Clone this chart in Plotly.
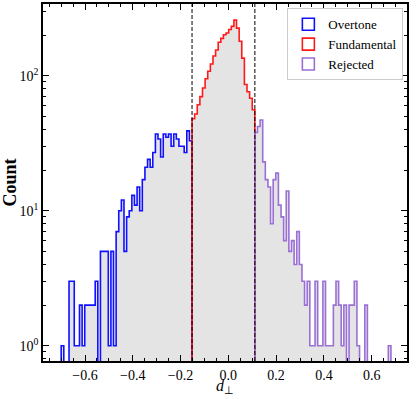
import numpy as np
import plotly.graph_objects as go

# cuts between the three groups (dashed lines)
cut_low = -0.152
cut_high = 0.111
overtone_lo = -0.6999
rejected_hi = 0.6808

# counts per bin (equal-width bins)
overtone_counts = [1, 0, 0, 3, 3, 1, 1, 2, 1, 2,
                   2, 2, 2, 3, 0, 5, 5, 5, 1, 5,
                   1, 7, 10, 12, 5, 9, 10, 13, 11, 15,
                   10, 17, 21, 24, 21, 27, 37, 34, 25, 37,
                   35, 37, 30, 37, 34, 30, 30, 27, 39, 33]
fundamental_counts = [48, 52, 61, 70, 81, 95, 108, 122, 140, 155,
                      177, 189, 201, 207, 220, 232, 258, 225, 180, 135,
                      86, 76, 68, 56]
rejected_counts = [38, 42, 47, 23, 17, 15, 8, 17, 19, 11,
                   9, 6, 14, 5, 6, 4, 7, 4, 3, 2,
                   3, 1, 1, 3, 1, 1, 3, 1, 1, 1,
                   2, 3, 2, 1, 2, 0, 2, 2, 3, 1,
                   0, 0, 2, 0, 0, 0, 0, 0, 0, 0,
                   0, 1]

groups = [
    ('Overtone', overtone_counts, overtone_lo, cut_low, '#1010ff'),
    ('Fundamental', fundamental_counts, cut_low, cut_high, '#ff1a1a'),
    ('Rejected', rejected_counts, cut_high, rejected_hi, '#9a6fd6'),
]

SERIF = 'Liberation Serif, Times New Roman, serif'
FLOOR = 0.05  # below the visible range, so zero bins drop off the axis

fig = go.Figure()

# grey filled histogram of everything
all_centers, all_counts, widths = [], [], []
for name, counts, lo, hi, color in groups:
    edges = np.linspace(lo, hi, len(counts) + 1)
    all_centers.extend((edges[:-1] + edges[1:]) / 2)
    all_counts.extend(counts)
    widths.extend(np.diff(edges))

fig.add_trace(go.Bar(
    x=all_centers, y=all_counts, width=widths,
    marker=dict(color='rgb(228,228,228)', line=dict(width=0)),
    showlegend=False, hoverinfo='skip'
))

# step outlines per group
for name, counts, lo, hi, color in groups:
    edges = np.linspace(lo, hi, len(counts) + 1)
    c = np.array(counts, dtype=float)
    c[c <= 0] = FLOOR
    xs = np.concatenate([[edges[0]], edges[:-1], [edges[-1], edges[-1]]])
    ys = np.concatenate([[FLOOR], c, [c[-1], FLOOR]])
    fig.add_trace(go.Scatter(
        x=xs, y=ys, mode='lines', line=dict(color=color, width=1.6, shape='hv'),
        showlegend=False, hoverinfo='skip'
    ))
    # legend entry: outlined box
    fig.add_trace(go.Bar(
        x=[None], y=[None], name=name,
        marker=dict(color='rgba(0,0,0,0)', line=dict(color=color, width=1.6))
    ))

for xc in (cut_low, cut_high):
    fig.add_shape(type='line', x0=xc, x1=xc, y0=0, y1=1, xref='x', yref='paper',
                  line=dict(color='black', width=1, dash='4px,2px'), layer='above')

# x axis label as an annotation, pinned to the bottom edge of the figure
fig.add_annotation(text='<i>d</i><sub>\u22a5</sub>', x=0.5, y=-0.1036, xref='paper', yref='paper',
                   xanchor='center', yanchor='bottom', showarrow=False,
                   font=dict(family=SERIF, size=16))

xticks = [-0.6, -0.4, -0.2, 0.0, 0.2, 0.4, 0.6]
yticks = [1, 10, 100]
yminor = [0.8, 0.9] + list(range(2, 10)) + list(range(20, 100, 10)) + [200, 300]

fig.update_layout(
    width=416, height=399,
    margin=dict(l=43, r=9, t=4, b=38),
    plot_bgcolor='white', paper_bgcolor='white',
    barmode='overlay', bargap=0,
    font=dict(family=SERIF, size=14, color='black'),
    legend=dict(x=0.99, y=0.988, xanchor='right', yanchor='top',
                bgcolor='white', bordercolor='#cccccc', borderwidth=1,
                font=dict(family=SERIF, size=13), tracegroupgap=2),
    xaxis=dict(
        range=[-0.776, 0.748], tickvals=xticks,
        ticktext=[f'{v:.1f}'.replace('-', '\u2212') for v in xticks],
        ticks='inside', ticklen=6, tickwidth=1.2, tickcolor='black',
        minor=dict(ticks='inside', dtick=0.05, tick0=0, ticklen=3, tickcolor='black', showgrid=False),
        showline=True, linecolor='black', linewidth=1.5, mirror='allticks',
        showgrid=False, zeroline=False, automargin=False,
    ),
    yaxis=dict(
        type='log', range=[-0.113, 2.531], tickvals=yticks,
        ticktext=['10<sup>0</sup>', '10<sup>1</sup>', '10<sup>2</sup>'],
        ticks='inside', ticklen=6, tickwidth=1.2, tickcolor='black',
        minor=dict(ticks='inside', tickvals=yminor, ticklen=3, tickcolor='black', showgrid=False),
        showline=True, linecolor='black', linewidth=1.5, mirror='allticks',
        showgrid=False, zeroline=False, automargin=False,
        title=dict(text='<b>Count</b>', font=dict(size=18), standoff=3),
    ),
)

# the page body has a default 8px margin; drop it so the figure fills the window
fig.write_html("out.html", config={'displayModeBar': False},
               post_script="document.body.style.margin='0';")
